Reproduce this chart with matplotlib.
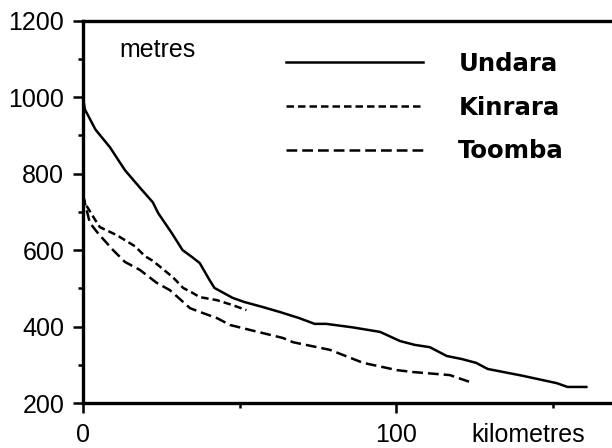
import matplotlib
matplotlib.use('Agg')
import matplotlib.pyplot as plt
from matplotlib.ticker import MultipleLocator, FixedLocator

# Longitudinal profiles of three lava flows (distance in km, elevation in m)
undara_km = [0, 0.6, 4, 8.6, 13.4, 18, 22.3, 24, 28.4, 31.8, 34.8, 37.3, 40.4, 42,
             47.8, 51.6, 57, 62.9, 69.1, 74, 77.7, 86, 94.9, 101.3, 106, 110.8,
             116.2, 121, 125.6, 129.3, 140, 151.3, 154.8, 160.8]
undara_m = [1000, 968, 915, 869, 809, 765, 725, 697, 644, 600, 582, 566, 522, 501,
            475, 464, 452, 438, 422, 407, 407, 398, 386, 362, 352, 346,
            323, 315, 305, 289, 272, 252, 242, 242]

kinrara_km = [0, 0.6, 3.8, 5.4, 10.8, 16.6, 19.8, 22.3, 28.7, 32, 35, 37.3, 42.8, 47.8, 52.2]
kinrara_m = [744, 723, 680, 660, 639, 610, 584, 572, 529, 501, 488, 477, 469, 456, 443]

toomba_km = [0, 0.6, 2.2, 4.8, 9.6, 13.4, 18.2, 23.6, 27.8, 34.2, 37.4, 42.8, 47,
             53.4, 63.9, 67.1, 78.9, 89.5, 100.3, 105.4, 117.2, 123.6]
toomba_m = [744, 723, 671, 644, 600, 569, 548, 514, 495, 448, 438, 422, 404,
            391, 370, 359, 339, 305, 286, 281, 273, 255]

fig = plt.figure(figsize=(6.12, 4.48), dpi=100)
ax = fig.add_axes([83 / 612, 1 - 403 / 448, 1 - 83 / 612, (403 - 20.7) / 448])

lw = 1.8
ax.plot(undara_km, undara_m, color='black', lw=lw, label='Undara')
ax.plot(kinrara_km, kinrara_m, color='black', lw=lw, ls=(0, (3.0, 1.6)), label='Kinrara')
ax.plot(toomba_km, toomba_m, color='black', lw=lw, ls=(0, (4.3, 2.0)), label='Toomba')

ax.set_xlim(0, 169)
ax.set_ylim(200, 1200)

for side in ['left', 'bottom', 'top']:
    ax.spines[side].set_linewidth(2.4)
ax.spines['right'].set_visible(False)

ax.xaxis.set_major_locator(FixedLocator([0, 100]))
ax.xaxis.set_minor_locator(FixedLocator([50, 150]))
ax.yaxis.set_major_locator(MultipleLocator(200))
ax.yaxis.set_minor_locator(MultipleLocator(100))

ax.tick_params(which='major', direction='out', length=7.5, width=1.8)
ax.tick_params(which='minor', direction='out', length=3.5, width=1.8)
ax.tick_params(axis='x', which='major', pad=7)
ax.tick_params(axis='y', which='major', pad=6)
ax.tick_params(axis='x', which='both', top=False)
for lab in ax.get_xticklabels() + ax.get_yticklabels():
    lab.set_fontfamily('Liberation Sans')
    lab.set_fontsize(18)

fig.text(157 / 612, 1 - 50 / 448, 'metres', ha='center', va='center',
         fontfamily='Liberation Sans', fontsize=18)
fig.text(528 / 612, 1 - 435 / 448, 'kilometres', ha='center', va='center',
         fontfamily='Liberation Sans', fontsize=18)

ax.legend(loc='upper left', bbox_to_anchor=(286 / 612, 1 - 52 / 448),
          bbox_transform=fig.transFigure, frameon=False,
          prop={'family': 'DejaVu Sans', 'weight': 'bold', 'size': 17.6},
          handlelength=5.6, handletextpad=1.45, labelspacing=0.8,
          borderpad=0, borderaxespad=0)

fig.savefig('out.png', dpi=100)
